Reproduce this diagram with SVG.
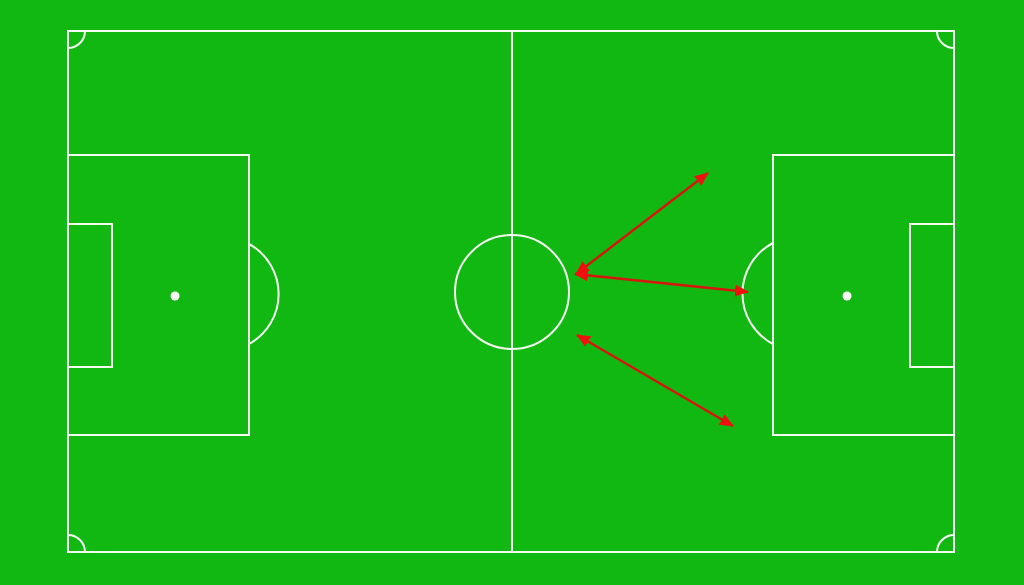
<svg xmlns="http://www.w3.org/2000/svg" width="1024" height="585" viewBox="0 0 1024 585">
<defs>
<style>
.l{fill:none;stroke:#f4fbf0;stroke-width:2}
.a{fill:none;stroke:#d8140c;stroke-width:2.4}
</style>
<marker id="h" viewBox="0 0 14 12" refX="13" refY="6" markerWidth="14" markerHeight="12" markerUnits="userSpaceOnUse" orient="auto-start-reverse">
<path d="M0,0 L14,6 L0,12 Z" fill="#f01010"/>
</marker>
</defs>
<rect width="1024" height="585" fill="#12b812"/>
<g id="pitch">
<rect class="l" x="68" y="31" width="886" height="521"/>
<line class="l" x1="512" y1="31" x2="512" y2="552"/>
<circle class="l" cx="512" cy="292" r="57"/>
<rect class="l" x="68" y="155" width="181" height="280"/>
<rect class="l" x="68" y="224" width="44" height="143"/>
<circle cx="175" cy="296" r="4.5" fill="#fff"/>
<path class="l" d="M249 244 A57 57 0 0 1 249 344"/>
<rect class="l" x="773" y="155" width="181" height="280"/>
<rect class="l" x="910" y="224" width="44" height="143"/>
<circle cx="847" cy="296" r="4.5" fill="#fff"/>
<path class="l" d="M773 243 A57 57 0 0 0 773 344"/>
<path class="l" d="M68 48 A17 17 0 0 0 85 31"/>
<path class="l" d="M937 31 A17 17 0 0 0 954 48"/>
<path class="l" d="M68 535 A17 17 0 0 1 85 552"/>
<path class="l" d="M937 552 A17 17 0 0 1 954 535"/>
</g>
<g id="connectors">
<line class="a" x1="576" y1="274" x2="708" y2="173" marker-start="url(#h)" marker-end="url(#h)"/>
<line class="a" x1="575" y1="274" x2="748" y2="292" marker-start="url(#h)" marker-end="url(#h)"/>
<line class="a" x1="577" y1="335" x2="733" y2="426" marker-start="url(#h)" marker-end="url(#h)"/>
</g>
</svg>
